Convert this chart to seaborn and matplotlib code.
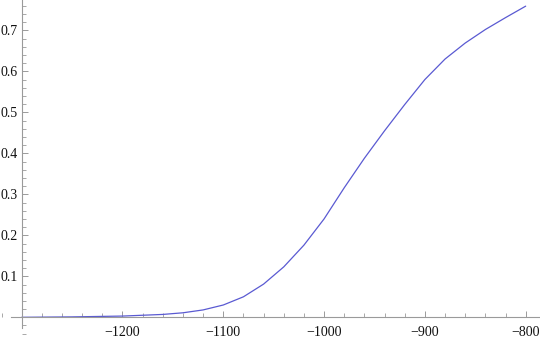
import numpy as np
import pandas as pd
import matplotlib
matplotlib.use("Agg")
import matplotlib.pyplot as plt
import seaborn as sns
from matplotlib.ticker import MultipleLocator, FixedLocator

x_vals = [-1300, -1250, -1200, -1160, -1140, -1120, -1100, -1080, -1060, -1040, -1020,
          -1000, -980, -960, -940, -920, -900, -880, -860, -840, -820, -800]
y_vals = [0.000, 0.001, 0.003, 0.007, 0.011, 0.018, 0.030, 0.050, 0.081, 0.123, 0.176,
          0.240, 0.316, 0.388, 0.455, 0.519, 0.580, 0.630, 0.669, 0.702, 0.731, 0.759]
x_ticks = [-1200, -1100, -1000, -900, -800]
x_tick_labels = ["\u22121200", "\u22121100", "\u22121000", "\u2212900", "\u2212800"]
y_ticks = [0.1, 0.2, 0.3, 0.4, 0.5, 0.6, 0.7]
y_tick_labels = ["0.1", "0.2", "0.3", "0.4", "0.5", "0.6", "0.7"]

sns.set_style("white")
plt.rcParams['font.family'] = ['Liberation Serif', 'DejaVu Serif']

df = pd.DataFrame({"x": x_vals, "y": y_vals})

fig = plt.figure(figsize=(5.4, 3.38), dpi=100)
ax = fig.add_axes([0, 0, 1, 1])
sns.lineplot(data=df, x="x", y="y", ax=ax, color="#5a5ad2", linewidth=0.9)

ax.set_xlim(-1321.5, -785.8)
ax.set_ylim(-0.0505, 0.774)

axis_col = "#9a9a9a"
for s in ["top", "right"]:
    ax.spines[s].set_visible(False)
ax.spines["left"].set_position(("data", -1300))
ax.spines["bottom"].set_position(("data", 0))
ax.spines["left"].set_bounds(-0.027, 0.774)
ax.spines["bottom"].set_bounds(-1311, -785.8)
for s in ["left", "bottom"]:
    ax.spines[s].set_color(axis_col)
    ax.spines[s].set_linewidth(0.8)

ax.xaxis.set_major_locator(FixedLocator(x_ticks))
ax.set_xticklabels(x_tick_labels)
ax.xaxis.set_minor_locator(MultipleLocator(20))
ax.yaxis.set_major_locator(FixedLocator(y_ticks))
ax.set_yticklabels(y_tick_labels)
ax.yaxis.set_minor_locator(MultipleLocator(0.02))

ax.tick_params(axis="both", which="major", direction="in", length=4.5, width=0.7,
               color=axis_col, labelsize=10, labelcolor="#111111")
ax.tick_params(axis="both", which="minor", direction="in", length=2.7, width=0.6,
               color=axis_col)
ax.tick_params(axis="x", which="major", pad=6)
ax.tick_params(axis="y", which="major", pad=3)
ax.tick_params(left=True, bottom=True, which="both")

ax.set_xlabel("")
ax.set_ylabel("")
ax.grid(False)

fig.savefig("out.png", dpi=100)
